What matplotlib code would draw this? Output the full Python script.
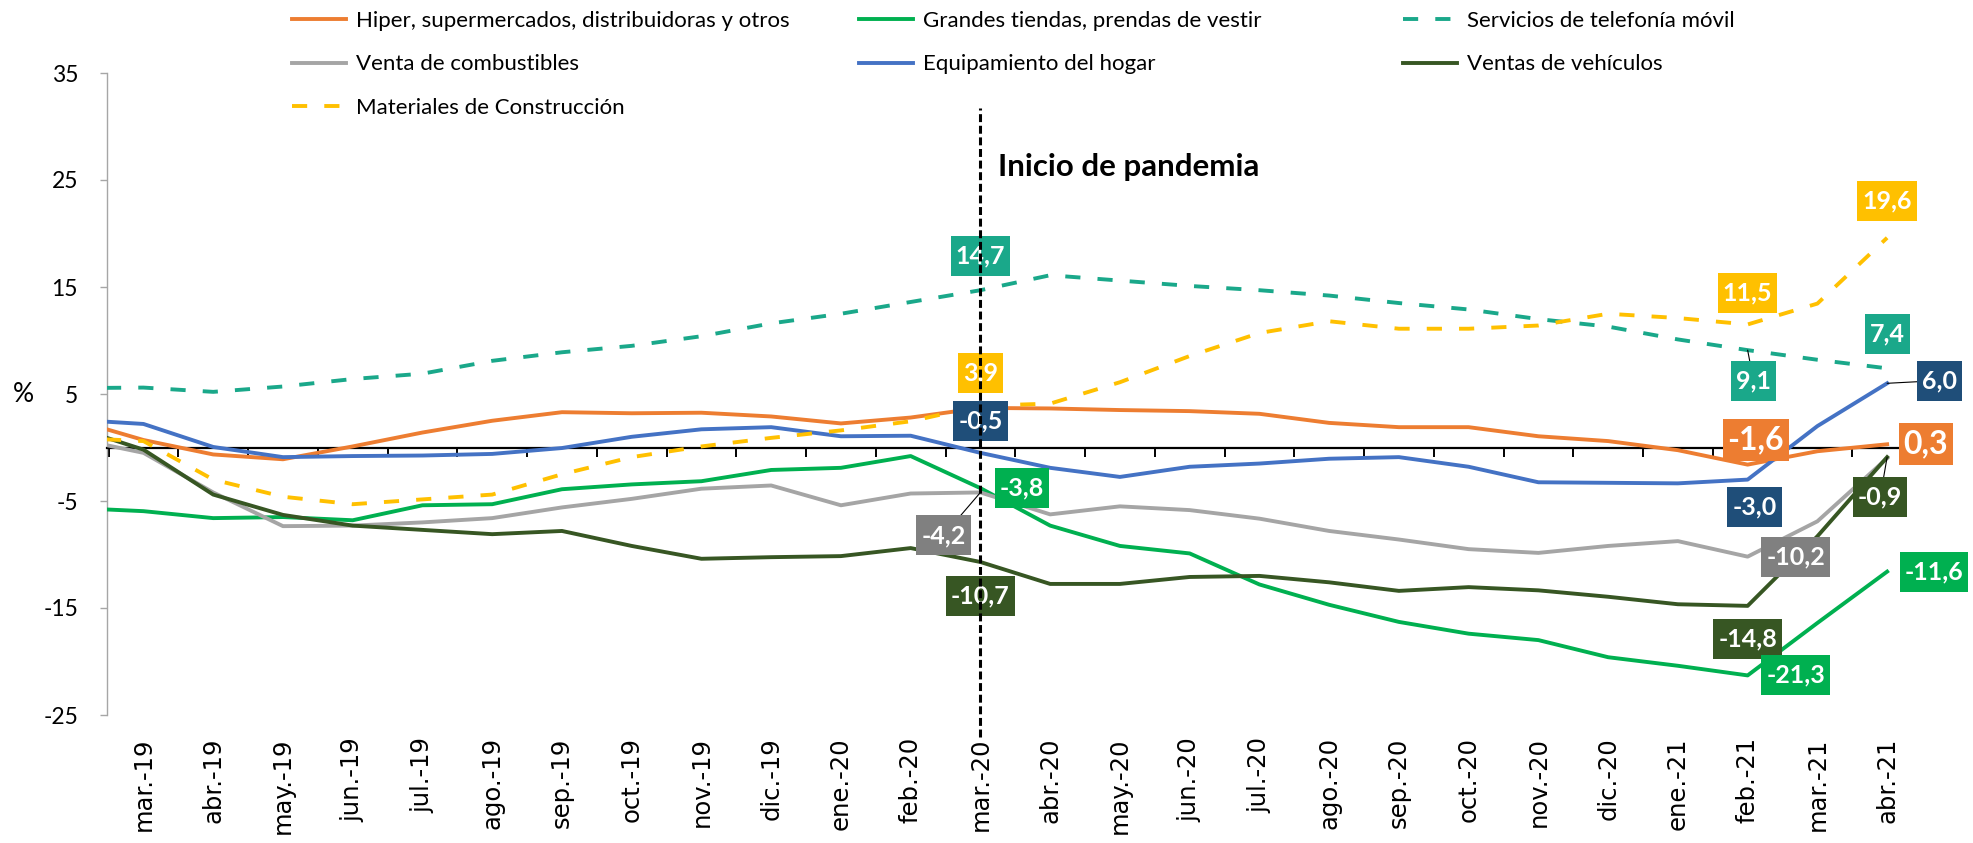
import matplotlib
matplotlib.use("Agg")
import matplotlib.pyplot as plt
from matplotlib.path import Path
import numpy as np

plt.rcParams["font.family"] = ["Lato", "DejaVu Sans"]
plt.rcParams["axes.unicode_minus"] = False

# ---------------- data ----------------
periods = ["feb.-19", "mar.-19", "abr.-19", "may.-19", "jun.-19", "jul.-19", "ago.-19",
           "sep.-19", "oct.-19", "nov.-19", "dic.-19", "ene.-20", "feb.-20", "mar.-20",
           "abr.-20", "may.-20", "jun.-20", "jul.-20", "ago.-20", "sep.-20", "oct.-20",
           "nov.-20", "dic.-20", "ene.-21", "feb.-21", "mar.-21", "abr.-21"]
month_labels = periods[1:]

hiper = [2.6, 0.7, -0.65, -1.1, 0.1, 1.4, 2.5, 3.3, 3.2, 3.25, 2.9, 2.25, 2.8, 3.7,
         3.65, 3.5, 3.4, 3.15, 2.3, 1.9, 1.9, 1.05, 0.6, -0.25, -1.6, -0.35, 0.3]
grandes = [-5.65, -5.95, -6.6, -6.5, -6.8, -5.4, -5.3, -3.9, -3.45, -3.15, -2.1, -1.9, -0.8,
           -3.8, -7.3, -9.2, -9.9, -12.8, -14.7, -16.3, -17.4, -18.0, -19.6, -20.4, -21.3,
           -16.4, -11.6]
telefonia = [5.55, 5.6, 5.2, 5.7, 6.4, 6.9, 8.1, 8.9, 9.5, 10.4, 11.6, 12.5, 13.6, 14.7,
             16.1, 15.6, 15.1, 14.7, 14.2, 13.5, 12.9, 12.0, 11.3, 10.1, 9.1, 8.2, 7.4]
combustibles = [0.85, -0.5, -4.2, -7.35, -7.3, -7.0, -6.6, -5.6, -4.8, -3.85, -3.55, -5.4,
                -4.3, -4.2, -6.25, -5.5, -5.85, -6.65, -7.8, -8.6, -9.5, -9.85, -9.2, -8.75,
                -10.2, -6.9, -1.0]
hogar = [2.6, 2.2, 0.05, -0.9, -0.8, -0.75, -0.6, -0.05, 1.0, 1.7, 1.9, 1.05, 1.1, -0.5,
         -1.9, -2.75, -1.8, -1.5, -1.05, -0.9, -1.8, -3.25, -3.3, -3.35, -3.0, 2.0, 6.0]
vehiculos = [1.9, -0.2, -4.4, -6.3, -7.3, -7.7, -8.1, -7.8, -9.2, -10.4, -10.25, -10.15,
             -9.4, -10.7, -12.75, -12.75, -12.1, -12.0, -12.6, -13.4, -13.05, -13.35,
             -13.95, -14.65, -14.8, -8.3, -0.9]
construccion = [0.9, 0.6, -3.0, -4.6, -5.3, -4.85, -4.4, -2.5, -0.9, 0.1, 0.9, 1.6, 2.45,
                3.9, 4.1, 6.1, 8.55, 10.7, 11.8, 11.1, 11.1, 11.4, 12.5, 12.1, 11.5, 13.45,
                19.6]

names = ["Hiper, supermercados, distribuidoras y otros", "Grandes tiendas, prendas de vestir",
         "Servicios de telefonía móvil", "Venta de combustibles", "Equipamiento del hogar",
         "Ventas de vehículos", "Materiales de Construcción"]
pandemic_label = "Inicio de pandemia"
pandemic_month = "mar.-20"

# ---------------- styles ----------------
DASH = (0, (3.9, 4.4))
styles = {
    "hiper": dict(color="#ED7D31", ls="-", box="#ED7D31", big=True),
    "grandes": dict(color="#00B050", ls="-", box="#00B050", big=False),
    "telefonia": dict(color="#1AA88A", ls=DASH, box="#1AA88A", big=False),
    "combustibles": dict(color="#A5A5A5", ls="-", box="#808080", big=False),
    "hogar": dict(color="#4472C4", ls="-", box="#1F4E79", big=False),
    "vehiculos": dict(color="#375623", ls="-", box="#375623", big=False),
    "construccion": dict(color="#FFC000", ls=DASH, box="#FFC000", big=False),
}
series = {"hiper": hiper, "grandes": grandes, "telefonia": telefonia,
          "combustibles": combustibles, "hogar": hogar, "vehiculos": vehiculos,
          "construccion": construccion}


def padded_box(padx, pady):
    def style(x0, y0, width, height, mutation_size):
        px, py = padx * mutation_size, pady * mutation_size
        return Path([(x0 - px, y0 - py), (x0 + width + px, y0 - py),
                     (x0 + width + px, y0 + height + py), (x0 - px, y0 + height + py),
                     (x0 - px, y0 - py)], closed=True)
    return style


W, H = 1973, 843
fig = plt.figure(figsize=(W / 100, H / 100), dpi=100)
ax = fig.add_axes([107.2 / W, 1 - 715 / H, (1922 - 107.2) / W, (715 - 73) / H])

x = np.arange(len(periods)) - 1  # feb.-19 sits just before the first category

handles = {}
for key, name in zip(series, names):
    st = styles[key]
    (ln,) = ax.plot(x, series[key], color=st["color"], ls=st["ls"], lw=2.8,
                    solid_joinstyle="round", dash_capstyle="butt", label=name, zorder=3)
    handles[key] = ln

ax.set_xlim(-0.52, len(month_labels) - 0.5)
ax.set_ylim(-25, 35)
ax.set_yticks([-25, -15, -5, 5, 15, 25, 35])
ax.tick_params(axis="y", direction="out", length=5, width=1, color="#A6A6A6",
               labelsize=16.5, pad=16)
for sp in ("top", "right"):
    ax.spines[sp].set_visible(False)
ax.spines["left"].set_color("#A6A6A6")
ax.spines["left"].set_linewidth(1)
ax.spines["bottom"].set_position(("data", 0))
ax.spines["bottom"].set_color("black")
ax.spines["bottom"].set_linewidth(1.6)
ax.set_xticks([])
ax.set_xticks(np.arange(-0.5, len(month_labels), 1), minor=True)
ax.tick_params(axis="x", which="minor", direction="out", length=6.5, width=1.4,
               color="black", labelbottom=False)
ax.patch.set_alpha(0)

sec = ax.secondary_xaxis("bottom")
sec.set_xticks(np.arange(len(month_labels)), labels=month_labels)
sec.tick_params(length=0, pad=16, labelrotation=90, labelsize=17.5)
for t in sec.get_xticklabels():
    t.set_fontfamily(["DejaVu Sans"])
sec.spines["bottom"].set_visible(False)

fig.text(23 / W, 1 - 394 / H, "%", ha="center", va="center", fontsize=19)

# pandemic line
p_idx = month_labels.index(pandemic_month)
ax.axvline(p_idx, ymin=(715 - 737) / 642, ymax=(715 - 108) / 642, color="black",
           lw=2.2, ls=(0, (2.6, 1.2)), clip_on=False, zorder=8)
ax.text(p_idx + 0.25, 26.2, pandemic_label, ha="left", va="center", fontsize=22.5,
        fontweight="bold", zorder=8)

# data labels (offsets in points)
offsets = {
    ("telefonia", "mar.-20"): (0, 24.5, False),
    ("construccion", "mar.-20"): (0, 23.8, False),
    ("hogar", "mar.-20"): (0, 23, False),
    ("grandes", "mar.-20"): (30, 0, False),
    ("combustibles", "mar.-20"): (-26.6, -31, True),
    ("vehiculos", "mar.-20"): (0, -24.5, False),
    ("construccion", "feb.-21"): (0, 23, False),
    ("telefonia", "feb.-21"): (4.3, -22.3, True),
    ("hiper", "feb.-21"): (5.8, 18, False),
    ("hogar", "feb.-21"): (5, -19.4, False),
    ("combustibles", "feb.-21"): (34.5, 0, False),
    ("vehiculos", "feb.-21"): (0, -23.8, False),
    ("grandes", "feb.-21"): (34.5, 0, False),
    ("construccion", "abr.-21"): (0, 26.6, False),
    ("telefonia", "abr.-21"): (0, 24.5, False),
    ("hogar", "abr.-21"): (38, 2, True),
    ("hiper", "abr.-21"): (28, 0, False),
    ("vehiculos", "abr.-21"): (-5, -28.8, True),
    ("grandes", "abr.-21"): (33.8, 0, False),
}


def fmt(v):
    return f"{v:.1f}".replace(".", ",")


for (key, month), (dx, dy, leader) in offsets.items():
    i = month_labels.index(month)
    v = series[key][i + 1]
    st = styles[key]
    if st["big"]:
        fs, box = 23, padded_box(0.15, 0.2)
    else:
        fs, box = 18, padded_box(0.2, 0.34)
    ax.annotate(fmt(v), xy=(i, v), xytext=(dx, dy), textcoords="offset points",
                ha="center", va="center", color="white", fontweight="bold", fontsize=fs,
                bbox=dict(boxstyle=box, fc=st["box"], ec="none"),
                arrowprops=(dict(arrowstyle="-", color="black", lw=0.8, shrinkA=0, shrinkB=0)
                            if leader else None),
                zorder=6)

# legend: three columns
cols = [(["hiper", "combustibles", "construccion"], 292),
        (["grandes", "hogar"], 859),
        (["telefonia", "vehiculos"], 1403)]
for keys, xpx in cols:
    fig.legend(handles=[handles[k] for k in keys], loc="upper left",
               bbox_to_anchor=(xpx / W, 1 - 11 / H), frameon=False, borderpad=0,
               borderaxespad=0, handlelength=2.45, handletextpad=0.45,
               labelspacing=1.05, fontsize=16)

fig.savefig("out.png", dpi=100, facecolor="white")
